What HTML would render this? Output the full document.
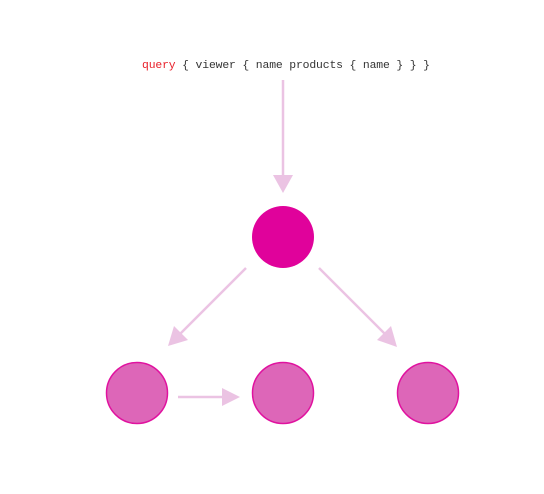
<!DOCTYPE html>
<html><head><style>
html,body{margin:0;padding:0;background:#fff;}
svg{display:block;}
</style></head><body>
<svg width="544" height="494" viewBox="0 0 544 494" xmlns="http://www.w3.org/2000/svg">
<text x="142" y="68" font-family="Liberation Mono, monospace" font-size="11.4" fill="#333" textLength="288" lengthAdjust="spacing"><tspan fill="#e8202a">query</tspan> { viewer { name products { name } } }</text>
<g stroke="#ebc3e3" stroke-width="2.5" fill="none">
<line x1="283" y1="80" x2="283" y2="178"/>
<line x1="246" y1="268" x2="180" y2="334"/>
<line x1="319" y1="268" x2="385" y2="334"/>
<line x1="178" y1="397" x2="224" y2="397"/>
</g>
<g fill="#ebc3e3">
<polygon points="273,175 293,175 283,193"/>
<polygon points="168,346 174,326 188,340"/>
<polygon points="397,347 377,340 391,326"/>
<polygon points="240,397 222,388 222,406"/>
</g>
<circle cx="283" cy="237" r="31" fill="#e0029b"/>
<g fill="#dd66b8" stroke="#e0129f" stroke-width="1.5">
<circle cx="137" cy="393" r="30.5"/>
<circle cx="283" cy="393" r="30.5"/>
<circle cx="428" cy="393" r="30.5"/>
</g>
</svg>
</body></html>
